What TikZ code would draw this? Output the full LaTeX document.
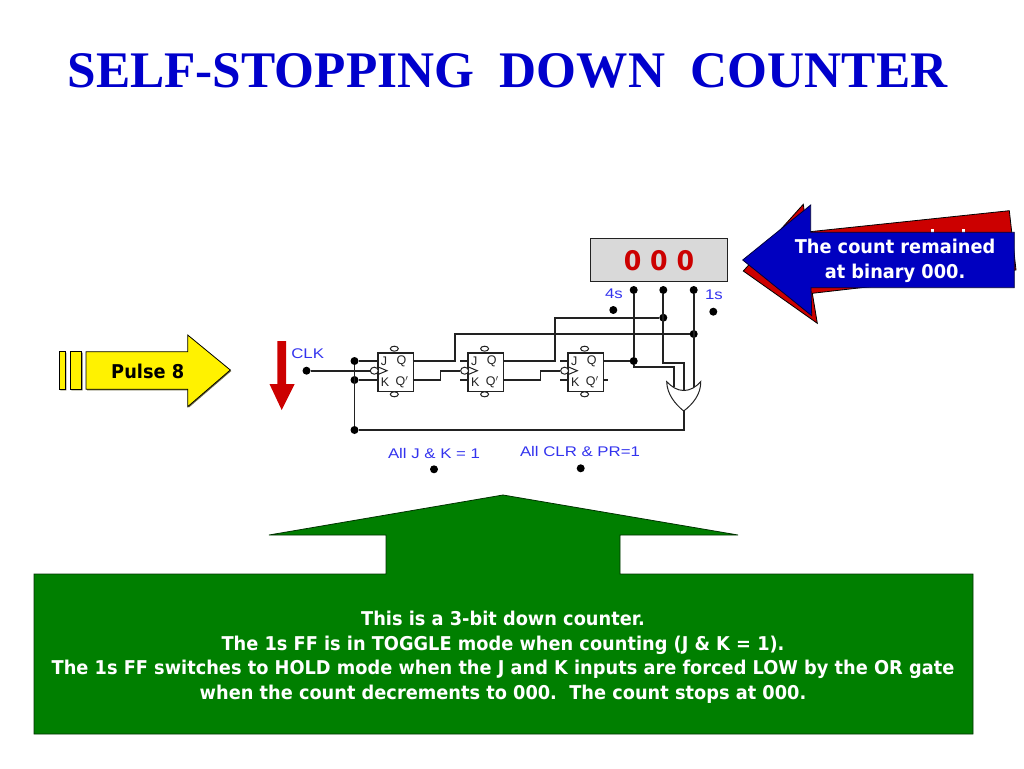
\documentclass[tikz,border=0pt]{standalone}
\usepackage{fontspec}
\setmainfont{Liberation Serif}
\newfontfamily\slidefont[FakeStretch=0.935]{DejaVu Sans}
\newfontfamily\circfont[FakeStretch=1.2]{Liberation Sans}
\newfontfamily\pinfont{Liberation Sans}
\usetikzlibrary{
    arrows.meta,
    positioning,
    shapes.geometric,
    calc
}
\definecolor{titleblue}{RGB}{0,0,204}
\definecolor{circblue}{RGB}{51,51,238}
\definecolor{boxgreen}{RGB}{0,127,0}
\definecolor{arrowred}{RGB}{204,0,0}
\definecolor{arrowblue}{RGB}{0,0,192}
\definecolor{wirecol}{RGB}{34,34,34}
\definecolor{dispgray}{RGB}{217,217,217}

\begin{document}
\begin{tikzpicture}[
    x=1pt, y=-1pt,
    wire/.style={draw=wirecol, line width=1.8pt},
    thinwire/.style={draw=wirecol, line width=1pt},
    jdot/.style={circle, fill=black, inner sep=0pt, minimum size=8pt},
    ffbox/.style={rectangle, draw=wirecol, line width=1.6pt, fill=white, inner sep=0pt, minimum width=35.5pt, minimum height=38.5pt},
    bubble/.style={ellipse, draw=wirecol, line width=1pt, fill=white, inner sep=0pt, minimum width=8pt, minimum height=5pt},
    ffpin/.style={font=\pinfont\fontsize{12.5}{13}\selectfont, text=wirecol, inner sep=0pt},
    circlabel/.style={font=\circfont\fontsize{14}{15}\selectfont, text=circblue, inner sep=0pt},
    slidetext/.style={font=\slidefont\bfseries\fontsize{19}{24.5}\selectfont, align=center, inner sep=0pt}
]
\useasboundingbox (0,0) rectangle (1024,768);

% Title
\node[font=\bfseries\fontsize{51.3}{60}\selectfont, text=titleblue, inner sep=0pt] (title) at (507.5,71) {SELF-STOPPING\ \ DOWN\ \ COUNTER};

% Pulse arrow
\fill[black!65!yellow] (60.3,352.7) rectangle (66.3,390.3) (71.3,352.7) rectangle (82.7,390.3);
\draw[black, line width=0.8pt, fill=yellow] (59.3,351.7) rectangle (65.3,389.3) (70.3,351.7) rectangle (81.7,389.3);
\fill[black!65!yellow] (87,352.7) -- (188.7,352.7) -- (188.7,336) -- (231.3,371) -- (188.7,407.7) -- (188.7,390.3) -- (87,390.3) -- cycle;
\draw[black, line width=0.8pt, fill=yellow] (86,351.7) -- (187.7,351.7) -- (187.7,335) -- (230.3,370) -- (187.7,406.7) -- (187.7,389.3) -- (86,389.3) -- cycle;
\node[slidetext, text=black] (pulse) at (147.7,371.5) {Pulse 8};

% Clock edge arrow
\fill[arrowred] (277.3,341) -- (286,341) -- (286,384) -- (294.7,384) -- (281.7,410) -- (269.5,384) -- (277.3,384) -- cycle;

% Flip-flops
\foreach \i/\xl in {1/377, 2/467.3, 3/567.3} {
    \node[ffbox, anchor=north west] (ff\i) at (\xl,352) {};
    \coordinate (j\i) at (\xl,361);
    \coordinate (k\i) at (\xl,380);
    \coordinate (q\i) at (\xl+35.5,361);
    \coordinate (qn\i) at (\xl+35.5,380);
    \node[bubble] (pr\i) at (\xl+17.3,348.7) {};
    \node[bubble] (clr\i) at (\xl+17.3,394.3) {};
    \node[bubble, minimum height=7pt] (cb\i) at (\xl-2.7,370.7) {};
    \draw[thinwire] (\xl,366.5) -- (\xl+10,370.7) -- (\xl,374.9);
    \node[ffpin] (lj\i) at (\xl+7,361) {J};
    \node[ffpin] (lq\i) at (\xl+24.5,361) {Q};
    \node[ffpin] (lk\i) at (\xl+8,382) {K};
    \node[ffpin] (ln\i) at (\xl+25,382) {Q$'$};
}

% Junctions and terminals
\foreach \n/\px/\py in {clk/306.5/370.7, ja/354.5/361, ka/354.5/380, fb/354.5/430,
    ta/633.7/290, tb/663.3/290, tc/693.7/290, sa/633.7/361, sb/663.3/317.7, sc/693.7/334,
    lf/613.3/310, lo/713.3/311.7, ljk/434/469.3, lcp/580.7/468.3} {
    \node[jdot] (\n) at (\px,\py) {};
}

% OR gate
\coordinate (orl) at (666.7,381.7);
\coordinate (orr) at (700.7,381.7);
\coordinate (ortip) at (683.7,411);
\coordinate (ora) at (674,387);
\coordinate (orb) at (684,390.5);
\coordinate (orc) at (693.7,386.5);
\draw[thinwire, fill=white] (orl) .. controls (672,387) and (677,390.5) .. (orb) .. controls (690,390.5) and (696,387) .. (orr) .. controls (701,394) and (693,404) .. (ortip) .. controls (675,404) and (667,394) .. (orl) -- cycle;

% Wiring
\draw[wire] (clk) -- (cb1.west);
\draw[wire] (ja) -- (j1);
\draw[wire] (ka) -- (k1);
\draw[wire] (ja) -- (fb);
\draw[wire] (q1) -- ++(42.5,0) |- (sc);
\draw[wire] (qn1) -- ++(28,0) |- (cb2.west);
\draw[wire] (q2) -- ++(52.3,0) |- (sb);
\draw[wire] (qn2) -- ++(37.7,0) |- (cb3.west);
\draw[wire] (q3) -- (sa);
\draw[wire] (ta) -- (sa);
\draw[wire] (sa) -- ++(0,6.3) -| (ora);
\draw[wire] (tb) -- ++(0,72.7) -| (orb);
\draw[wire] (tc) -- (orc);
\draw[wire] (ortip) |- (fb);

% Pin stubs
\foreach \i in {2,3} {
    \draw[wire] (j\i) -- ++(-7,0);
    \draw[wire] (k\i) -- ++(-7,0);
}
\draw[wire] (qn3) -- ++(5,0);

% Circuit labels
\node[circlabel] (lclk) at (307.7,354) {CLK};
\node[circlabel] (l4s) at (614,294) {4s};
\node[circlabel] (l1s) at (714,295) {1s};
\node[circlabel] (ljktxt) at (434,453) {All J \& K = 1};
\node[circlabel] (lcptxt) at (580,451.7) {All CLR \& PR=1};

% Count display
\node[rectangle, draw=wirecol, line width=1.2pt, fill=dispgray, minimum width=137.4pt, minimum height=43pt, inner sep=0pt,
    font=\slidefont\bfseries\fontsize{27}{30}\selectfont, text=arrowred] (disp) at (659,260.2) {0 0 0};

% Callout arrows
\draw[black, line width=0.8pt, fill=arrowred] (743.3,271) -- (803.3,204.3) -- (807,232) -- (1009.3,210.7) -- (1016,270) -- (812.3,293.3) -- (817.3,323.3) -- cycle;
\foreach \px in {932,963} {
    \fill[white] (\px-1.5,229) rectangle (\px+1.5,233);
}
\draw[black!70!arrowblue, line width=0.8pt, fill=arrowblue] (742.7,260) -- (810.7,205) -- (810.7,232.3) -- (1014.3,232.3) -- (1014.3,287.7) -- (811,287.7) -- (811.7,315.7) -- cycle;
\node[slidetext, text=white] (remain) at (895,261) {The count remained\\at binary 000.};

% Explanation box
\draw[black!60!boxgreen, line width=0.8pt, fill=boxgreen] (503,495) -- (738,535) -- (620,535) -- (620,574) -- (973,574) -- (973,734) -- (34,734) -- (34,574) -- (386,574) -- (386,535) -- (269,535) -- cycle;
\node[slidetext, text=white] (explain) at (503,657) {This is a 3-bit down counter.\\The 1s FF is in TOGGLE mode when counting (J \& K = 1).\\The 1s FF switches to HOLD mode when the J and K inputs are forced LOW by the OR gate\\when the count decrements to 000.\ \ The count stops at 000.};

\end{tikzpicture}
\end{document}
